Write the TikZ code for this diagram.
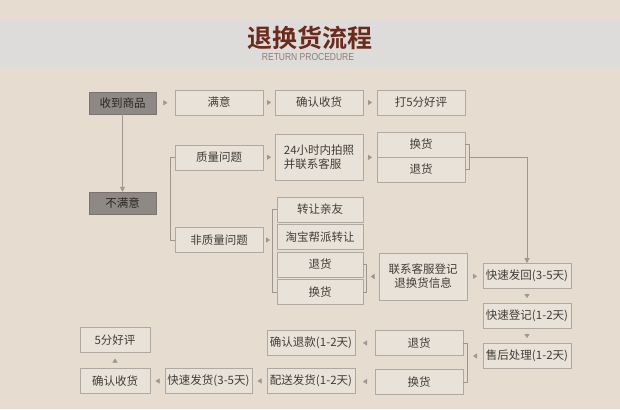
\documentclass[tikz,border=0pt]{standalone}
\usepackage{fontspec}
\setmainfont{Noto Sans CJK SC}[BoldFont={Noto Sans CJK SC Bold}]
\newfontfamily\latinsans{Liberation Sans}
\usetikzlibrary{arrows.meta,decorations.markings}
\definecolor{bgbeige}{HTML}{E6DDD0}
\definecolor{bandgray}{HTML}{DEDCDA}
\definecolor{titlebrown}{HTML}{6B2B1C}
\definecolor{subgray}{HTML}{8C7D74}
\definecolor{boxline}{HTML}{B0A9A1}
\definecolor{boxfill}{HTML}{E9E2D8}
\definecolor{darkfill}{HTML}{8E8984}
\definecolor{linkgray}{HTML}{9E978F}
\definecolor{textgray}{HTML}{423D39}
\begin{document}
\begin{tikzpicture}[x=1pt, y=-1pt, every node/.style={font=\fontsize{11.5}{14}\selectfont, text=textgray}, box/.style={draw=boxline, line width=0.9pt, fill=boxfill, minimum width=88pt, minimum height=25pt, inner sep=1pt, align=center}, darkbox/.style={draw=darkfill!85!black, fill=darkfill, minimum width=67pt, minimum height=22pt, inner sep=1pt, text=black!85}, tip/.style={linkgray, decoration={markings, mark=at position 0.5 with {\arrow[xshift=2pt]{Triangle[length=4pt, width=5pt]}}}, postaction={decorate}}, link/.style={draw=linkgray, line width=0.9pt, -{Triangle[length=5pt, width=5pt]}}, brace/.style={draw=linkgray, line width=0.9pt}]
\useasboundingbox (0,0) rectangle (620,409);
\fill[bgbeige] (0,0) rectangle (620,409);
\fill[bandgray] (0,20) rectangle (620,67);
\node[font=\fontsize{25}{28}\selectfont\bfseries, text=titlebrown] (title) at (310,38) {退换货流程};
\node[font=\latinsans\fontsize{8.5}{9}\selectfont, text=subgray, yscale=1.2] (subtitle) at (308,56.5) {RETURN PROCEDURE};
\node[darkbox] (recv) at (122.5,103) {收到商品};
\node[darkbox] (unsat) at (122.5,203) {不满意};
\node[box] (sat) at (219,102.5) {满意};
\node[box] (confirm) at (319,102.5) {确认收货};
\node[box] (rate) at (421,102.5) {打5分好评};
\node[box] (quality) at (219,157.5) {质量问题};
\node[box, minimum height=46pt, align=left] (photo) at (319,157) {24小时内拍照\\并联系客服};
\node[box] (swapA) at (421,144.5) {换货};
\node[box] (returnA) at (421,169.5) {退货};
\node[box] (nonq) at (219,240) {非质量问题};
\node[box, minimum width=86pt] (giveaway) at (320,209.5) {转让亲友};
\node[box, minimum width=86pt] (resell) at (320,237) {淘宝帮派转让};
\node[box, minimum width=86pt] (returnB) at (320,264.5) {退货};
\node[box, minimum width=86pt] (swapB) at (320,292) {换货};
\node[box, minimum height=47pt] (contact) at (423,276.5) {联系客服登记\\退换货信息};
\node[box] (shipback) at (527,276) {快速发回(3-5天)};
\node[box] (register) at (527,316) {快速登记(1-2天)};
\node[box] (aftersale) at (527,356) {售后处理(1-2天)};
\node[box] (returnC) at (419,343) {退货};
\node[box] (swapC) at (419,382) {换货};
\node[box] (refund) at (311,343) {确认退款(1-2天)};
\node[box] (dispatch) at (311,381) {配送发货(1-2天)};
\node[box, minimum width=87pt] (express) at (208.5,381) {快速发货(3-5天)};
\node[box, minimum width=70pt] (confirmC) at (115,381) {确认收货};
\node[box, minimum width=70pt] (goodrate) at (115,340) {5分好评};
\coordinate (brB) at ([xshift=-4pt]giveaway.west);
\coordinate (retbrace) at ([xshift=3pt]returnB.east);
\coordinate (brC) at ([xshift=4pt]returnC.east);
\draw[brace] (quality.west) -- ++(-4,0) |- (nonq.west);
\draw[brace] (giveaway.west) -- (brB) |- (swapB.west);
\draw[brace] (returnB.east) -- (retbrace) |- (swapB.east);
\draw[brace] (swapA.east) -- ++(4,0) |- (returnA.east);
\draw[brace] (returnC.east) -- (brC) |- (swapC.east);
\draw[link] (recv) -- (unsat);
\draw[link] ([xshift=4pt]swapA.south east) -| (shipback.north);
\path[tip] (recv) -- (sat);
\path[tip] (sat) -- (confirm);
\path[tip] (confirm) -- (rate);
\path[tip] (quality) -- (photo);
\path[tip] (photo) -- (swapA.south west);
\path[tip] (nonq.east) -- (brB |- nonq.east);
\path[tip] (contact.west) -- (retbrace |- contact.west);
\path[tip] (contact) -- (shipback);
\path[tip] (shipback) -- (register);
\path[tip] (register) -- (aftersale);
\path[tip] (aftersale.west) -- (brC |- aftersale.west);
\path[tip] (returnC) -- (refund);
\path[tip] (swapC) -- (dispatch);
\path[tip] (dispatch) -- (express);
\path[tip] (express) -- (confirmC);
\path[tip] (confirmC) -- (goodrate);
\end{tikzpicture}
\end{document}
